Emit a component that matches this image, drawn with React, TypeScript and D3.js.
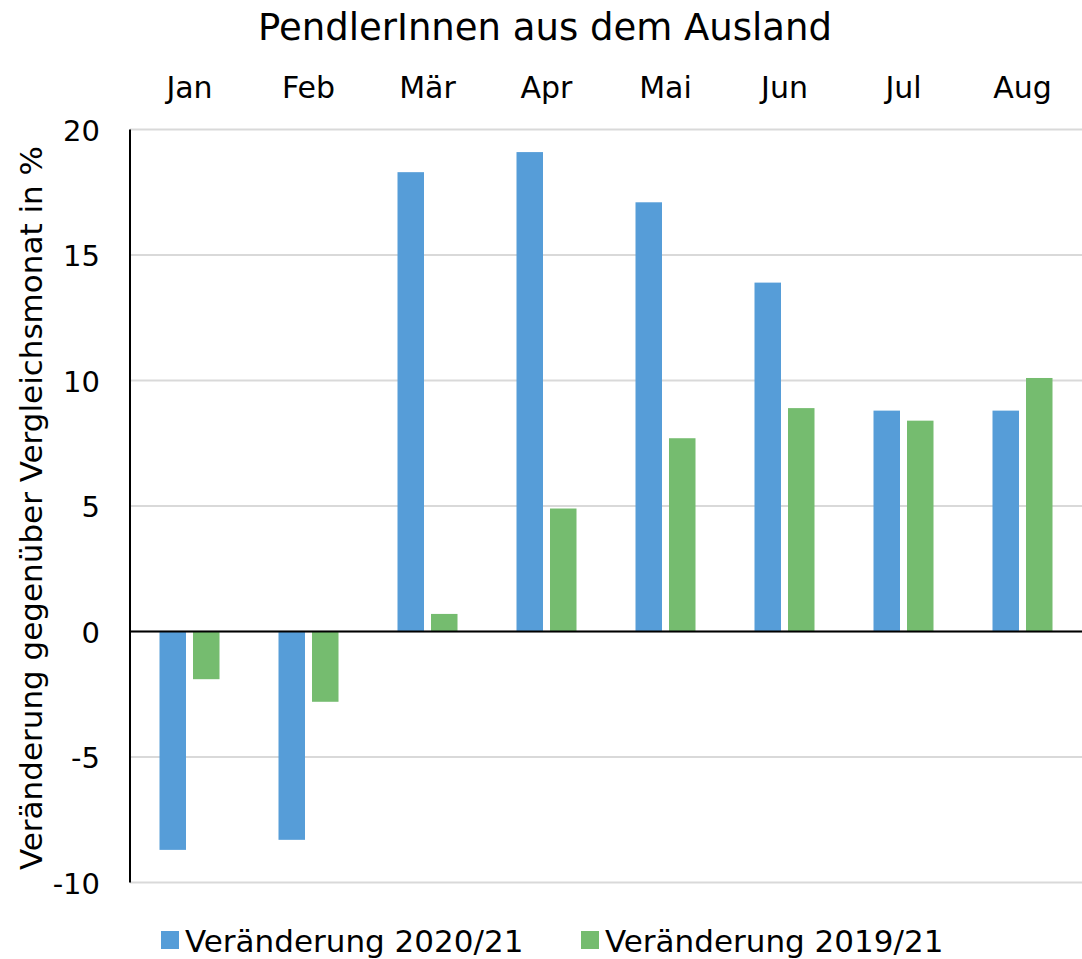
import React from 'react';
import * as d3 from 'd3';

const months = ['Jan', 'Feb', 'Mär', 'Apr', 'Mai', 'Jun', 'Jul', 'Aug'];
const change2020 = [-8.7, -8.3, 18.3, 19.1, 17.1, 13.9, 8.8, 8.8];
const change2019 = [-1.9, -2.8, 0.7, 4.9, 7.7, 8.9, 8.4, 10.1];
const yTicks = [-10, -5, 0, 5, 10, 15, 20];
const seriesNames = ['Veränderung 2020/21', 'Veränderung 2019/21'];
const colors = ['#569DD8', '#75BC6F'];

const W = 1082;
const H = 959;
const FONT = '"DejaVu Sans", Lato, sans-serif';

export default function App() {
  const left = 130;
  const right = 1082;
  const top = 129.5;
  const bottom = 882.5;

  const x = d3.scaleBand<string>().domain(months).range([left, right]);
  const y = d3.scaleLinear().domain([-10, 20]).range([bottom, top]);
  const barW = 26.5;
  const gap = 7;

  const series = [change2020, change2019];

  return (
    <svg width={W} height={H} style={{ position: 'absolute', left: 0, top: 0 }} fontFamily={FONT}>
      <rect width={W} height={H} fill="#fff" />
      <text x={545} y={40} textAnchor="middle" fontSize={37}>PendlerInnen aus dem Ausland</text>

      {/* gridlines */}
      {yTicks.map(t => (
        <line key={t} x1={left} x2={right} y1={y(t)} y2={y(t)} stroke="#d9d9d9" strokeWidth={2} />
      ))}

      {/* bars */}
      {series.map((vals, si) => vals.map((v, i) => {
        const cx = x(months[i])! + x.bandwidth() / 2;
        const bx = si === 0 ? cx - gap / 2 - barW : cx + gap / 2;
        return (
          <rect key={si + '-' + i} x={bx} y={y(Math.max(0, v))} width={barW}
            height={Math.abs(y(v) - y(0))} fill={colors[si]} />
        );
      }))}

      {/* zero line and left axis */}
      <line x1={left} x2={right} y1={y(0)} y2={y(0)} stroke="#000" strokeWidth={2} />
      <line x1={left} x2={left} y1={top} y2={bottom} stroke="#000" strokeWidth={2} />

      {/* month labels at top */}
      {months.map(m => (
        <text key={m} x={x(m)! + x.bandwidth() / 2} y={98} textAnchor="middle" fontSize={30}>{m}</text>
      ))}

      {/* y tick labels */}
      {yTicks.map(t => (
        <text key={t} x={100} y={y(t) + 11} textAnchor="end" fontSize={29}>{t}</text>
      ))}

      <text transform={`translate(42, ${(top + bottom) / 2 + 2}) rotate(-90)`} textAnchor="middle" fontSize={31}>
        Veränderung gegenüber Vergleichsmonat in %
      </text>

      {/* legend */}
      {seriesNames.map((n, i) => {
        const lx = i === 0 ? 161 : 581;
        return (
          <g key={n}>
            <rect x={lx} y={931} width={18} height={18} fill={colors[i]} />
            <text x={lx + 24} y={952} fontSize={31}>{n}</text>
          </g>
        );
      })}
    </svg>
  );
}
